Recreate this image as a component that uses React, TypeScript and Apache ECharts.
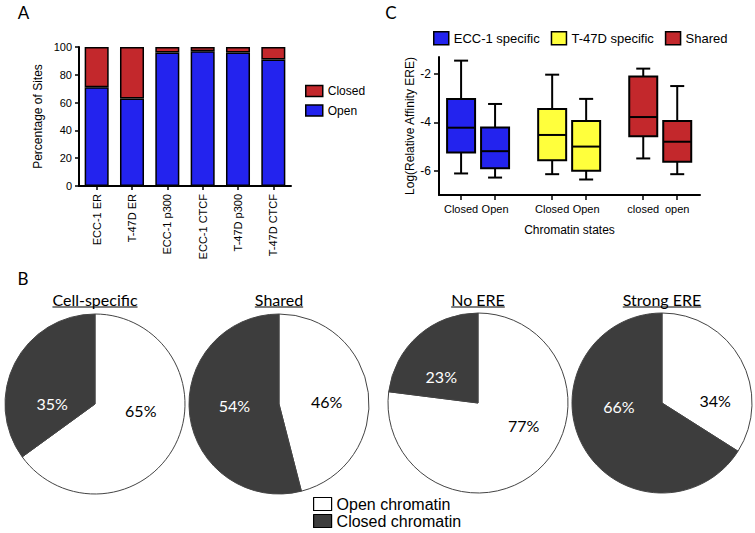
import React, { useEffect, useRef } from 'react';
import * as echarts from 'echarts';

// ---------- Data ----------
const barCategories = ['ECC-1 ER', 'T-47D ER', 'ECC-1 p300', 'ECC-1 CTCF', 'T-47D p300', 'T-47D CTCF'];
const openPct = [71, 63, 96, 97, 96, 91];
const closedPct = [29, 37, 4, 3, 4, 9];
const barSeriesNames = ['Open', 'Closed'];

const boxGroups = ['ECC-1 specific', 'T-47D specific', 'Shared'];
const boxStateLabels = [['Closed', 'Open'], ['Closed', 'Open'], ['closed', 'open']];
// [min, q1, median, q3, max]
const ecc1Closed = [-6.11, -5.24, -4.22, -3.03, -1.45];
const ecc1Open = [-6.28, -5.9, -5.19, -4.21, -3.24];
const t47dClosed = [-6.14, -5.56, -4.52, -3.45, -2.03];
const t47dOpen = [-6.36, -6.0, -5.0, -3.94, -3.03];
const sharedClosed = [-5.49, -4.57, -3.78, -2.11, -1.78];
const sharedOpen = [-6.14, -5.63, -4.8, -3.94, -2.5];
const boxTicks = [-6, -4, -2];

const pieTitles = ['Cell-specific', 'Shared', 'No ERE', 'Strong ERE'];
const pieOpen = [65, 46, 77, 34];
const pieClosed = [35, 54, 23, 66];
const pieNames = ['Open chromatin', 'Closed chromatin'];

// ---------- Styles / layout ----------
const ARIAL = "'Liberation Sans', Arial, Helvetica, sans-serif";
const CAL = "Lato, 'Open Sans', sans-serif";
const BLUE = '#2323ee';
const RED = '#c3282c';
const YELLOW = '#ffff3c';
const DARK = '#3d3d3d';
const groupColors = [BLUE, YELLOW, RED];
const GROUP_STEP = 2.68;
const boxPositions = [0, 1, GROUP_STEP, GROUP_STEP + 1, 2 * GROUP_STEP, 2 * GROUP_STEP + 1];
const boxValues = [[ecc1Closed, ecc1Open], [t47dClosed, t47dOpen], [sharedClosed, sharedOpen]];
const pieCenters = [[95, 404], [279, 404], [478, 403], [662, 403]];
// label nudges [dx, dy] for [open, closed]
const pieLabelShift = [
  [[3, -15], [0, 21]],
  [[0, 4], [3, -5]],
  [[14, -14], [-5, 10]],
  [[11, 21], [-1, -20]],
];

function measure(text: string, font: string) {
  const c = document.createElement('canvas').getContext('2d');
  if (!c) return text.length * 7;
  c.font = font;
  return c.measureText(text).width;
}

export default function App() {
  const ref = useRef<HTMLDivElement>(null);
  useEffect(() => {
    const chart = echarts.init(ref.current!, null, { renderer: 'svg' });
    const axisLine = { show: true, onZero: false, lineStyle: { color: '#000', width: 2 } };
    const axisTick = { show: true, length: 4, lineStyle: { color: '#000', width: 1.5 } };
    const flatLabels: string[] = [];
    boxStateLabels.forEach((g) => g.forEach((l) => flatLabels.push(l)));

    const boxSeries = boxGroups.map((name, gi) => ({
      type: 'custom',
      name,
      xAxisIndex: 1,
      yAxisIndex: 1,
      itemStyle: { color: groupColors[gi] },
      encode: { x: 0, y: [1, 2, 3, 4, 5] },
      data: boxValues[gi].map((v, j) => [boxPositions[gi * 2 + j], ...v]),
      renderItem: (params: any, api: any) => {
        const x = api.value(0);
        const cx = api.coord([x, api.value(1)])[0];
        const y = (i: number) => api.coord([x, api.value(i)])[1];
        const yMin = y(1), yQ1 = y(2), yMed = y(3), yQ3 = y(4), yMax = y(5);
        const hw = 14;
        const cap = 7;
        const st = { stroke: '#000', lineWidth: 2 };
        return {
          type: 'group',
          children: [
            { type: 'line', shape: { x1: cx, y1: yMax, x2: cx, y2: yQ3 }, style: st },
            { type: 'line', shape: { x1: cx, y1: yQ1, x2: cx, y2: yMin }, style: st },
            { type: 'line', shape: { x1: cx - cap, y1: yMax, x2: cx + cap, y2: yMax }, style: st },
            { type: 'line', shape: { x1: cx - cap, y1: yMin, x2: cx + cap, y2: yMin }, style: st },
            {
              type: 'rect',
              shape: { x: cx - hw, y: yQ3, width: hw * 2, height: yQ1 - yQ3 },
              style: { fill: api.visual('color'), stroke: '#000', lineWidth: 2 },
            },
            { type: 'line', shape: { x1: cx - hw, y1: yMed, x2: cx + hw, y2: yMed }, style: st },
          ],
        };
      },
    }));

    const pieSeries = pieTitles.map((t, i) => ({
      type: 'pie',
      name: t,
      center: pieCenters[i],
      radius: 90,
      startAngle: 90,
      clockwise: true,
      avoidLabelOverlap: false,
      labelLine: { show: false },
      itemStyle: { borderColor: '#444', borderWidth: 1 },
      label: {
        show: true,
        position: 'inside',
        formatter: '{c}%',
        fontFamily: CAL,
        fontSize: 16,
      },
      labelLayout: (p: any) => {
        const s = pieLabelShift[i][p.dataIndex];
        return { dx: s[0], dy: s[1] };
      },
      data: [
        { name: pieNames[0], value: pieOpen[i], itemStyle: { color: '#fff' }, label: { color: '#000' } },
        { name: pieNames[1], value: pieClosed[i], itemStyle: { color: DARK }, label: { color: '#fff' } },
      ],
    }));

    const titleFont = `16px ${CAL}`;
    const graphics: any[] = [];
    [['A', 23.5, 12], ['C', 391, 12.5], ['B', 23, 278]].forEach(([t, x, y]) => {
      graphics.push({
        type: 'text', x, y,
        style: { text: t, font: `17px ${CAL}`, fill: '#000', textAlign: 'center', textVerticalAlign: 'middle', align: 'center', verticalAlign: 'middle' },
      });
    });
    pieTitles.forEach((t, i) => {
      const cx = pieCenters[i][0];
      const w = measure(t, titleFont);
      graphics.push({
        type: 'text', x: cx, y: 299,
        style: { text: t, font: titleFont, fill: '#000', textAlign: 'center', textVerticalAlign: 'middle', align: 'center', verticalAlign: 'middle' },
      });
      graphics.push({
        type: 'line',
        shape: { x1: cx - w / 2, y1: 307, x2: cx + w / 2, y2: 307 },
        style: { stroke: '#000', lineWidth: 1 },
      });
    });

    const option: any = {
      animation: false,
      backgroundColor: '#fff',
      textStyle: { fontFamily: ARIAL, color: '#000' },
      grid: [
        { left: 79, top: 47, width: 212, height: 139 },
        { left: 439, top: 57, width: 261, height: 138 },
      ],
      xAxis: [
        {
          gridIndex: 0,
          type: 'category',
          data: barCategories,
          axisLine,
          axisTick: { ...axisTick, alignWithLabel: true },
          axisLabel: { rotate: 90, margin: 8, fontSize: 11, color: '#000', fontFamily: ARIAL },
        },
        {
          gridIndex: 1,
          type: 'value',
          min: -0.65,
          max: 7.03,
          splitLine: { show: false },
          axisLine,
          axisTick: { ...axisTick, length: 5, customValues: boxPositions },
          axisLabel: {
            customValues: boxPositions,
            margin: 8,
            fontSize: 11,
            color: '#000',
            fontFamily: ARIAL,
            formatter: (v: number) => {
              let best = 0;
              boxPositions.forEach((p, k) => {
                if (Math.abs(p - v) < Math.abs(boxPositions[best] - v)) best = k;
              });
              return flatLabels[best];
            },
          },
          name: 'Chromatin states',
          nameLocation: 'middle',
          nameGap: 29,
          nameTextStyle: { fontSize: 12, color: '#000', fontFamily: ARIAL },
        },
      ],
      yAxis: [
        {
          gridIndex: 0,
          type: 'value',
          min: 0,
          max: 100,
          interval: 20,
          splitLine: { show: false },
          axisLine,
          axisTick,
          axisLabel: { fontSize: 11, margin: 7, color: '#000', fontFamily: ARIAL },
          name: 'Percentage of Sites',
          nameLocation: 'middle',
          nameGap: 35,
          nameTextStyle: { fontSize: 12, color: '#000', fontFamily: ARIAL },
        },
        {
          gridIndex: 1,
          type: 'value',
          min: -7,
          max: -1.3,
          splitLine: { show: false },
          axisLine,
          axisTick: { ...axisTick, length: 5, customValues: boxTicks },
          axisLabel: { customValues: boxTicks, fontSize: 12, margin: 8, color: '#000', fontFamily: ARIAL },
          name: 'Log(Relative Affinity ERE)',
          nameLocation: 'middle',
          nameGap: 21,
          nameTextStyle: { fontSize: 12, color: '#000', fontFamily: ARIAL },
        },
      ],
      legend: [
        {
          data: ['Closed', 'Open'],
          orient: 'vertical',
          left: 305,
          top: 84,
          icon: 'rect',
          itemWidth: 17,
          itemHeight: 11,
          itemGap: 5.5,
          padding: 0,
          itemStyle: { borderColor: '#000', borderWidth: 1.5 },
          textStyle: { fontSize: 12, lineHeight: 14, color: '#000', fontFamily: ARIAL },
          selectedMode: false,
        },
        {
          data: boxGroups,
          orient: 'horizontal',
          left: 433,
          top: 31,
          icon: 'rect',
          itemWidth: 15,
          itemHeight: 13,
          itemGap: 11,
          padding: 0,
          itemStyle: { borderColor: '#000', borderWidth: 1.5 },
          textStyle: { fontSize: 13, color: '#000', fontFamily: ARIAL },
          selectedMode: false,
        },
        {
          data: pieNames,
          orient: 'vertical',
          left: 313,
          top: 496,
          icon: 'rect',
          itemWidth: 18,
          itemHeight: 13,
          itemGap: 1,
          padding: 0,
          itemStyle: { borderColor: '#000', borderWidth: 1.2 },
          textStyle: { fontSize: 16, lineHeight: 13, color: '#000', fontFamily: ARIAL },
          selectedMode: false,
        },
      ],
      series: [
        {
          type: 'bar',
          name: barSeriesNames[0],
          stack: 'pct',
          xAxisIndex: 0,
          yAxisIndex: 0,
          barWidth: '68%',
          data: openPct,
          itemStyle: { color: BLUE, borderColor: '#000', borderWidth: 1.5 },
        },
        {
          type: 'bar',
          name: barSeriesNames[1],
          stack: 'pct',
          xAxisIndex: 0,
          yAxisIndex: 0,
          barWidth: '68%',
          data: closedPct,
          itemStyle: { color: RED, borderColor: '#000', borderWidth: 1.5 },
        },
        ...boxSeries,
        ...pieSeries,
      ],
      graphic: graphics,
    };
    chart.setOption(option);
    return () => chart.dispose();
  }, []);
  return (
    <div
      ref={ref}
      style={{ position: 'absolute', left: 0, top: 0, width: 755, height: 533, background: '#fff' }}
    />
  );
}
